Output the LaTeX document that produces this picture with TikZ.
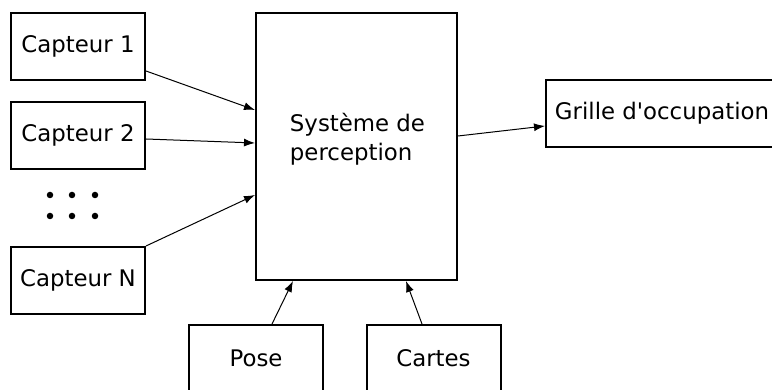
\documentclass[tikz,border=0pt]{standalone}
\usepackage{fontspec}
\setmainfont{DejaVu Sans}
\usetikzlibrary{arrows.meta}
\begin{document}
\begin{tikzpicture}[
    bloc/.style={draw, line width=0.04cm, minimum width=2.68cm, minimum height=1.34cm, inner sep=0pt},
    fleche/.style={line width=0.02cm, -{Latex[length=0.22cm,width=0.16cm]}},
    point/.style={fill, circle, inner sep=0pt, minimum size=0.13cm}
  ]
  \useasboundingbox (0,0) rectangle (15.44,7.8);
  \clip (0,0) rectangle (15.44,7.8);
  {\fontsize{13}{16.4}\selectfont

  % Capteurs
  \node [bloc] (capt1) at (1.56,6.87) {Capteur 1};
  \node [bloc] (capt2) at (1.56,5.09) {Capteur 2};
  \node [bloc] (captN) at (1.56,2.19) {Capteur N};

  % Points de suspension
  \foreach \x in {1.00,1.44,1.90}
    \foreach \y in {3.90,3.48}
      \node [point] at (\x,\y) {};

  % Systeme de perception
  \node [bloc, minimum width=4.02cm, minimum height=5.34cm] (percep) at (7.13,4.87) {};
  \node [align=left] (perceptexte) at (7.15,5.02) {Système de\\perception};

  % Sortie
  \node [bloc, minimum width=4.64cm] (grille) at (13.24,5.53) {Grille d\textquotesingle occupation};

  % Entrees du bas
  \node [bloc] (pose) at (5.12,0.63) {Pose};
  \node [bloc] (cartes) at (8.67,0.63) {Cartes};

  % Fleches
  \draw [fleche] ([yshift=-0.49cm]capt1.east) -- ([yshift=0.73cm]percep.west);
  \draw [fleche] ([yshift=-0.07cm]capt2.east) -- ([yshift=0.07cm]percep.west);
  \draw [fleche] (captN.north east) -- ([yshift=-0.97cm]percep.west);
  \draw [fleche] ([xshift=0.32cm]pose.north) -- ([xshift=-1.27cm]percep.south);
  \draw [fleche] ([xshift=-0.23cm]cartes.north) -- ([xshift=0.99cm]percep.south);
  \draw [fleche] ([yshift=0.21cm]percep.east) -- ([yshift=-0.25cm]grille.west);
  }
\end{tikzpicture}
\end{document}
